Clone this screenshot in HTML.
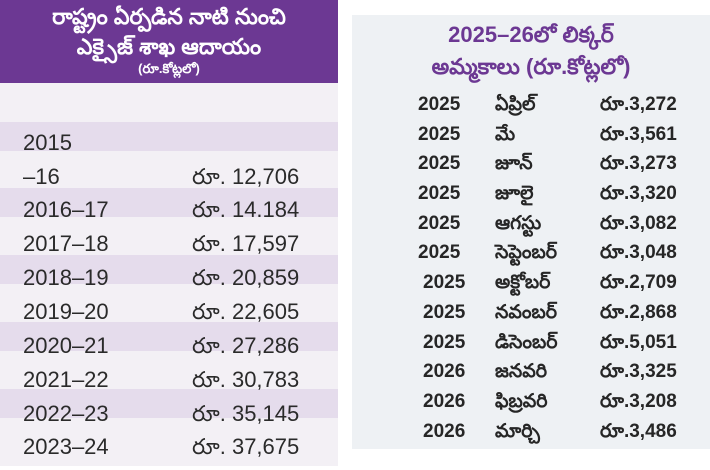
<!DOCTYPE html>
<html><head><meta charset="utf-8"><style>
body{margin:0;width:710px;height:470px;background:#fff;position:relative;overflow:hidden;font-family:"Liberation Sans","DejaVu Sans",sans-serif;color:#222}
.l{position:absolute;left:0;top:0;width:338px;height:466px;background:#f3f0f5}
.hd{position:absolute;left:0;top:0;width:338px;height:83px;background:#6c3893;color:#fff;text-align:center}
.band{position:absolute;left:0;width:338px;height:29px;background:#e5dcec}
.t{position:absolute;font-size:22px;white-space:nowrap;color:#2a2a2a}
.r{position:absolute;left:352px;top:15px;width:358px;height:434px;background:#eef1f4}
.rt{position:absolute;font-size:19px;font-weight:bold;white-space:nowrap;color:#262626}
</style></head><body>
<div class="l"></div>
<div class="hd">
<div style="position:absolute;top:4px;width:100%;font-size:22px;font-weight:bold">రాష్ట్రం ఏర్పడిన నాటి నుంచి</div>
<div style="position:absolute;top:34px;width:100%;font-size:22px;font-weight:bold">ఎక్సైజ్ శాఖ ఆదాయం</div>
<div style="position:absolute;top:61px;width:100%;font-size:13px;font-weight:bold">(రూ.కోట్లలో)</div>
</div>
<div class="band" style="top:122px"></div>
<div class="band" style="top:188px"></div>
<div class="band" style="top:255px"></div>
<div class="band" style="top:322px"></div>
<div class="band" style="top:389px"></div>
<div class="t" style="left:23px;top:130px">2015</div>
<div class="t" style="left:23px;top:164px">–16</div><div class="t" style="left:192px;top:164px">రూ. 12,706</div>
<div class="t" style="left:23px;top:197px">2016–17</div><div class="t" style="left:192px;top:197px">రూ. 14.184</div>
<div class="t" style="left:23px;top:231px">2017–18</div><div class="t" style="left:192px;top:231px">రూ. 17,597</div>
<div class="t" style="left:23px;top:265px">2018–19</div><div class="t" style="left:192px;top:265px">రూ. 20,859</div>
<div class="t" style="left:23px;top:299px">2019–20</div><div class="t" style="left:192px;top:299px">రూ. 22,605</div>
<div class="t" style="left:23px;top:333px">2020–21</div><div class="t" style="left:192px;top:333px">రూ. 27,286</div>
<div class="t" style="left:23px;top:367px">2021–22</div><div class="t" style="left:192px;top:367px">రూ. 30,783</div>
<div class="t" style="left:23px;top:401px">2022–23</div><div class="t" style="left:192px;top:401px">రూ. 35,145</div>
<div class="t" style="left:23px;top:434px">2023–24</div><div class="t" style="left:192px;top:434px">రూ. 37,675</div>
<div class="r"></div>
<div style="position:absolute;left:352px;top:22px;width:358px;text-align:center;font-size:22px;font-weight:bold;color:#6c3893">2025–26లో లిక్కర్</div>
<div style="position:absolute;left:352px;top:54px;width:358px;text-align:center;font-size:22px;font-weight:bold;color:#6c3893">అమ్మకాలు (రూ.కోట్లలో)</div>
<div class="rt" style="left:418px;top:94px">2025</div><div class="rt" style="left:495px;top:94px">ఏప్రిల్</div><div class="rt" style="left:600px;top:94px">రూ.3,272</div>
<div class="rt" style="left:418px;top:124px">2025</div><div class="rt" style="left:495px;top:124px">మే</div><div class="rt" style="left:600px;top:124px">రూ.3,561</div>
<div class="rt" style="left:418px;top:153px">2025</div><div class="rt" style="left:495px;top:153px">జూన్</div><div class="rt" style="left:600px;top:153px">రూ.3,273</div>
<div class="rt" style="left:418px;top:183px">2025</div><div class="rt" style="left:495px;top:183px">జూలై</div><div class="rt" style="left:600px;top:183px">రూ.3,320</div>
<div class="rt" style="left:418px;top:213px">2025</div><div class="rt" style="left:495px;top:213px">ఆగస్టు</div><div class="rt" style="left:600px;top:213px">రూ.3,082</div>
<div class="rt" style="left:418px;top:242px">2025</div><div class="rt" style="left:495px;top:242px">సెప్టెంబర్</div><div class="rt" style="left:600px;top:242px">రూ.3,048</div>
<div class="rt" style="left:423px;top:272px">2025</div><div class="rt" style="left:495px;top:272px">అక్టోబర్</div><div class="rt" style="left:600px;top:272px">రూ.2,709</div>
<div class="rt" style="left:423px;top:302px">2025</div><div class="rt" style="left:495px;top:302px">నవంబర్</div><div class="rt" style="left:600px;top:302px">రూ.2,868</div>
<div class="rt" style="left:423px;top:332px">2025</div><div class="rt" style="left:495px;top:332px">డిసెంబర్</div><div class="rt" style="left:600px;top:332px">రూ.5,051</div>
<div class="rt" style="left:423px;top:361px">2026</div><div class="rt" style="left:495px;top:361px">జనవరి</div><div class="rt" style="left:600px;top:361px">రూ.3,325</div>
<div class="rt" style="left:423px;top:391px">2026</div><div class="rt" style="left:495px;top:391px">ఫిబ్రవరి</div><div class="rt" style="left:600px;top:391px">రూ.3,208</div>
<div class="rt" style="left:423px;top:421px">2026</div><div class="rt" style="left:495px;top:421px">మార్చి</div><div class="rt" style="left:600px;top:421px">రూ.3,486</div>
</body></html>
